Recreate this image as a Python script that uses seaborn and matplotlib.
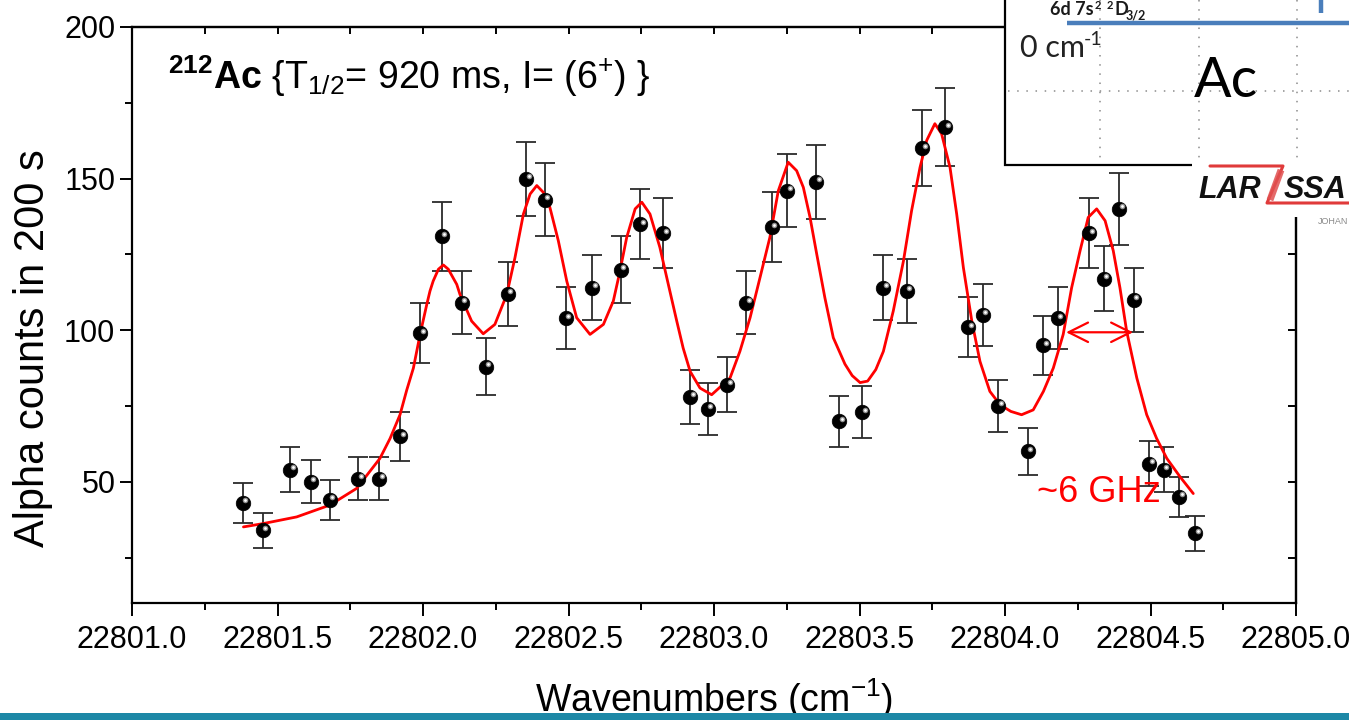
import numpy as np
import matplotlib
matplotlib.use("Agg")
import matplotlib.pyplot as plt
import seaborn as sns
from matplotlib import font_manager
from matplotlib.ticker import MultipleLocator, FixedLocator, FixedFormatter
from matplotlib.transforms import ScaledTranslation
from matplotlib.patches import Rectangle

# ---------------- data ----------------
wavenumber = [22801.381, 22801.450, 22801.543, 22801.615, 22801.680, 22801.777,
              22801.849, 22801.921, 22801.990, 22802.065, 22802.134, 22802.216,
              22802.292, 22802.354, 22802.419, 22802.491, 22802.581, 22802.680,
              22802.746, 22802.825, 22802.918, 22802.979, 22803.045, 22803.110,
              22803.199, 22803.251, 22803.351, 22803.430, 22803.509, 22803.581,
              22803.663, 22803.715, 22803.794, 22803.873, 22803.924, 22803.976,
              22804.079, 22804.131, 22804.182, 22804.289, 22804.340, 22804.392,
              22804.443, 22804.495, 22804.546, 22804.598, 22804.653]
counts = [43, 34, 54, 50, 44, 51, 51, 65, 99, 131, 109, 88, 112, 150, 143, 104,
          114, 120, 135, 132, 78, 74, 82, 109, 134, 146, 149, 70, 73, 114, 113,
          160, 167, 101, 105, 75, 60, 95, 104, 132, 117, 140, 110, 56, 54, 45, 33]
count_err = [6.6, 5.8, 7.3, 7.1, 6.6, 7.1, 7.1, 8.1, 9.9, 11.4, 10.4, 9.4, 10.6,
             12.2, 12.0, 10.2, 10.7, 11.0, 11.6, 11.5, 8.8, 8.6, 9.1, 10.4, 11.6,
             12.1, 12.2, 8.4, 8.5, 10.7, 10.6, 12.6, 12.9, 10.0, 10.2, 8.7, 7.7,
             9.7, 10.2, 11.5, 10.8, 11.8, 10.5, 7.5, 7.3, 6.7, 5.7]

# fitted curve
fit_x = [22801.383, 22801.451, 22801.566, 22801.680, 22801.772, 22801.852,
         22801.887, 22801.921, 22801.944, 22801.967, 22801.990, 22802.013,
         22802.024, 22802.035, 22802.053, 22802.070, 22802.087, 22802.116,
         22802.127, 22802.167, 22802.207, 22802.247, 22802.288, 22802.316,
         22802.345, 22802.368, 22802.391, 22802.413, 22802.436, 22802.465,
         22802.494, 22802.528, 22802.574, 22802.620, 22802.654, 22802.677,
         22802.700, 22802.729, 22802.752, 22802.780, 22802.814, 22802.843,
         22802.872, 22802.894, 22802.918, 22802.952, 22802.992, 22803.055,
         22803.089, 22803.124, 22803.158, 22803.192, 22803.221, 22803.255,
         22803.284, 22803.307, 22803.330, 22803.353, 22803.381, 22803.410,
         22803.450, 22803.475, 22803.502, 22803.528, 22803.556, 22803.582,
         22803.616, 22803.651,
         22803.679, 22803.708, 22803.731, 22803.759, 22803.782, 22803.811,
         22803.834, 22803.857, 22803.886, 22803.914, 22803.948, 22803.983,
         22804.020, 22804.057, 22804.097, 22804.132, 22804.166, 22804.200,
         22804.229, 22804.258, 22804.286, 22804.315, 22804.344, 22804.372,
         22804.395, 22804.418, 22804.453, 22804.487, 22804.521, 22804.556,
         22804.601, 22804.647]
fit_y = [35.1, 36.2, 38.4, 42.3, 47.8, 57.7,
         64.3, 72.1, 80.2, 87.5, 98.6, 108.5,
         112.9, 116.2, 120.1, 121.5, 120.1, 115.1,
         111.8, 103.0, 98.8, 101.9, 111.8, 123.9,
         138.3, 144.9, 147.7, 145.5, 140.5, 129.5,
         116.2, 104.1, 98.6, 101.9, 109.6, 119.5,
         130.6, 140.0, 142.2, 138.3, 127.3, 115.1,
         103.0, 94.1, 86.4, 80.9, 78.7, 84.2,
         93.0, 104.1, 117.3, 130.6, 146.0, 155.4,
         152.6, 147.1, 137.2, 125.1, 110.7, 97.5,
         88.8, 85.0, 82.7, 83.2, 87.0, 93.0,
         106.3, 122.8,
         139.4, 153.7, 162.6, 168.1, 164.8, 153.7,
         138.3, 120.6, 103.0, 89.7, 79.8, 75.4,
         73.2, 72.1, 73.7, 79.8, 87.5, 98.6,
         114.0, 126.2, 137.2, 140.0, 136.1, 126.2,
         114.0, 99.7, 84.2, 72.1, 64.3, 57.7,
         51.7, 46.1]

x_ticks = [22801.0, 22801.5, 22802.0, 22802.5, 22803.0, 22803.5, 22804.0, 22804.5, 22805.0]
x_tick_labels = ["22801.0", "22801.5", "22802.0", "22802.5", "22803.0",
                 "22803.5", "22804.0", "22804.5", "22805.0"]
y_ticks = [50, 100, 150, 200]
y_tick_labels = ["50", "100", "150", "200"]

fwhm_left, fwhm_right, fwhm_level = 22804.21, 22804.44, 99.3
fwhm_label = "~6 GHz"

title_text = r"${}^{\mathbf{212}}\mathbf{Ac}$ {T$_{1/2}$= 920 ms, I= (6$^{+}$) }"
x_label = r"Wavenumbers (cm$^{-1}$)"
y_label = "Alpha counts in 200 s"

# ---------------- style ----------------
sns.set_theme(style="white")
names = {f.name for f in font_manager.fontManager.ttflist}
SANS = "Liberation Sans" if "Liberation Sans" in names else "DejaVu Sans"
NARROW = "Liberation Sans Narrow" if "Liberation Sans Narrow" in names else None
TITLE_FONT = NARROW or SANS
TITLE_SIZE = 33 if NARROW else 27
CAL = "Lato" if "Lato" in names else SANS
plt.rcParams["font.family"] = [SANS, "DejaVu Sans"]
plt.rcParams["mathtext.fontset"] = "custom"
plt.rcParams["mathtext.rm"] = TITLE_FONT
plt.rcParams["mathtext.bf"] = TITLE_FONT + ":bold"
plt.rcParams["mathtext.it"] = TITLE_FONT + ":italic"

W, H = 1349, 720
fig = plt.figure(figsize=(W / 100, H / 100), dpi=100, facecolor="white")
ax = fig.add_axes([132 / W, 1 - 603 / H, (1296 - 132) / W, (603 - 27) / H])
ax.set_facecolor("white")

# error bars, fit curve, points
ax.errorbar(wavenumber, counts, yerr=count_err, fmt="none", ecolor="#2b2b2b",
            elinewidth=1.3, capsize=7, capthick=1.3, zorder=3)
sns.lineplot(x=fit_x, y=fit_y, color="#ff0000", lw=2.0, ax=ax, sort=False,
             estimator=None, zorder=4)
sns.scatterplot(x=wavenumber, y=counts, s=110, color="black", edgecolor="black",
                linewidth=0.5, ax=ax, zorder=5)
off = ax.transData + ScaledTranslation(1.8 / 72, 1.8 / 72, fig.dpi_scale_trans)
ax.scatter(wavenumber, counts, s=16, color="#8f8f8f", transform=off, zorder=6, linewidths=0)
ax.scatter(wavenumber, counts, s=4, color="white", transform=off, zorder=7, linewidths=0)

ax.annotate("", xy=(fwhm_right, fwhm_level), xytext=(fwhm_left, fwhm_level),
            arrowprops=dict(arrowstyle="<->,head_length=0.7,head_width=0.35",
                            color="#ff0000", lw=1.6, shrinkA=0, shrinkB=0,
                            mutation_scale=20), zorder=6)
ax.text(22804.11, 43.4, fwhm_label, color="#ff0000", fontsize=26, va="baseline")

ax.text(0.031, 0.893, title_text, transform=ax.transAxes, fontsize=TITLE_SIZE,
        family=[TITLE_FONT, "DejaVu Sans"], va="baseline", ha="left", color="black")

# axes
ax.set_xlim(22801, 22805)
ax.set_ylim(10, 200)
ax.xaxis.set_major_locator(FixedLocator(x_ticks))
ax.xaxis.set_major_formatter(FixedFormatter(x_tick_labels))
ax.yaxis.set_major_locator(FixedLocator(y_ticks))
ax.yaxis.set_major_formatter(FixedFormatter(y_tick_labels))
ax.xaxis.set_minor_locator(MultipleLocator(0.25))
ax.yaxis.set_minor_locator(MultipleLocator(25))
ax.tick_params(which="major", direction="out", length=9, width=1.4, colors="black",
               labelsize=22, bottom=True, left=True, top=False, right=False)
ax.tick_params(which="minor", direction="out", length=5, width=1.4, colors="black",
               bottom=True, left=True, top=False, right=False)
ax.tick_params(axis="x", which="major", pad=7)
ax.tick_params(axis="y", which="major", pad=3)
for s in ax.spines.values():
    s.set_color("black")
    s.set_linewidth(1.6)
ax.set_xlabel("")
ax.set_ylabel("")

sx = ax.secondary_xaxis("top")
sx.xaxis.set_major_locator(MultipleLocator(0.25))
sx.tick_params(direction="in", length=5, width=1.4, labeltop=False, colors="black")
sx.spines["top"].set_linewidth(1.6)
sy = ax.secondary_yaxis("right")
sy.yaxis.set_major_locator(MultipleLocator(25))
sy.tick_params(direction="in", length=6, width=1.4, labelright=False, colors="black")
sy.spines["right"].set_linewidth(1.6)

fig.text(33 / W, 1 - 348 / H, y_label, rotation=90, ha="center", va="center",
         fontsize=30, color="black")
fig.text(714 / W, 1 - 712 / H, x_label, ha="center", va="baseline",
         fontsize=27, color="black")

# ---------------- overlay (slide decorations) ----------------
ov = fig.add_axes([0, 0, 1, 1], zorder=10)
ov.set_xlim(0, W)
ov.set_ylim(H, 0)
ov.axis("off")
ov.patch.set_alpha(0)

ov.add_patch(Rectangle((1005, -10), 400, 175, fc="white", ec="black", lw=1.6))
for gx in (1100, 1199, 1297):
    ov.plot([gx, gx], [0, 163], color="#8c8c8c", lw=1.1, ls=(0, (1, 5)))
ov.plot([1008, W], [91, 91], color="#8c8c8c", lw=1.1, ls=(0, (1, 5)))
ov.plot([1067, W], [23, 23], color="#4a7ebb", lw=3.2, solid_capstyle="butt")
ov.plot([1321, 1321], [0, 13], color="#4a7ebb", lw=3.2, solid_capstyle="butt")
lvl_kw = dict(fontweight="bold", family=[CAL, "DejaVu Sans"], color="#1a1a1a",
              va="baseline")
ov.text(1050, 15, "6d 7s", fontsize=13, **lvl_kw)
ov.text(1095, 9, "2", fontsize=8, **lvl_kw)
ov.text(1107, 9, "2", fontsize=8, **lvl_kw)
ov.text(1114, 15, "D", fontsize=13, **lvl_kw)
ov.text(1126, 19, "3/2", fontsize=9, **lvl_kw)
ov.text(1020, 57, "0 cm", fontsize=22, family=[CAL, "DejaVu Sans"],
        color="#222222", va="baseline")
ov.text(1084, 45, "-1", fontsize=14, family=[CAL, "DejaVu Sans"],
        color="#222222", va="baseline")
ov.text(1194, 97, "Ac", fontsize=40, family=[CAL, "DejaVu Sans"], color="black",
        va="baseline")

# logo area
ov.add_patch(Rectangle((1192, 158), 170, 59, fc="white", ec="none"))
ov.plot([1210, 1283, 1267, W], [166, 166, 203, 203], color="#e03a3a", lw=2.2)
ov.plot([1281, 1270], [170, 200], color="#e05050", lw=5, alpha=0.85, solid_capstyle="butt")
ov.text(1198, 198, "LAR", fontsize=22, fontweight="bold", fontstyle="italic",
        color="#111111", va="baseline")
ov.text(1284, 198, "SSA", fontsize=22, fontweight="bold", fontstyle="italic",
        color="#111111", va="baseline")
ov.text(1318, 224, "JOHAN", fontsize=6.5, color="#8a8a8a", va="baseline")

# bottom slide bar
ov.add_patch(Rectangle((0, 713), W, 8, fc="#1d88a6", ec="none"))

fig.savefig("out.png", dpi=100, facecolor="white")
